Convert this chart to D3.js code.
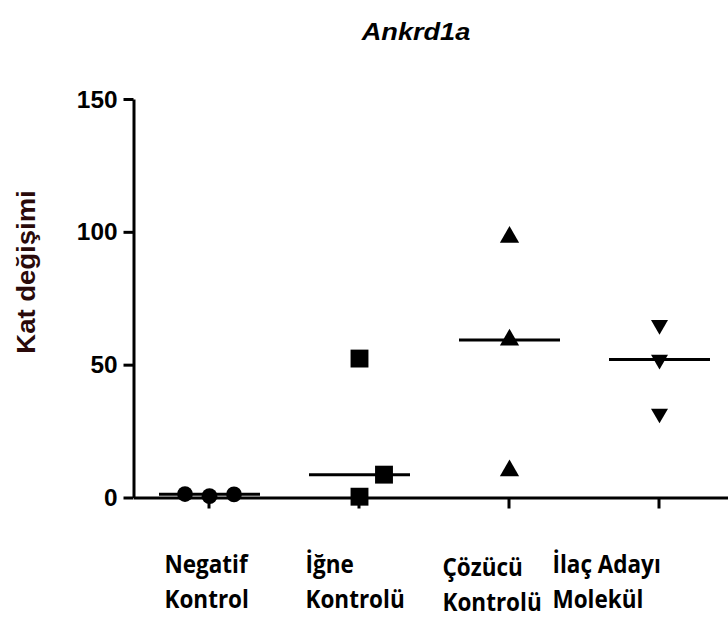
<!DOCTYPE html>
<html>
<head>
<meta charset="utf-8">
<script src="https://cdn.jsdelivr.net/npm/d3@7"></script>
<style>
  body { margin: 0; background: #fff; }
  svg { display: block; }
</style>
</head>
<body>
<svg id="chart" width="728" height="624"></svg>
<script>
// data
const groups = ["Negatif Kontrol", "İğne Kontrolü", "Çözücü Kontrolü", "İlaç Adayı Molekül"];
const labelLines = [["Negatif", "Kontrol"], ["İğne", "Kontrolü"], ["Çözücü", "Kontrolü"], ["İlaç Adayı", "Molekül"]];
const negatifKontrol = [1.3, 0.5, 1.2];
const igneKontrolu = [52.3, 8.6, 0.3];
const cozucuKontrolu = [98.0, 59.3, 10.1];
const ilacAdayi = [65.0, 51.9, 31.6];
const yTicks = [0, 50, 100, 150];

const series = [negatifKontrol, igneKontrolu, cozucuKontrolu, ilacAdayi];
const shapes = [d3.symbolCircle, d3.symbolSquare, d3.symbolTriangle, "down"];
const symbolSizes = [195, 320, 160, 125];
// horizontal dodge of overlapping points, in steps
const dodge = [[-1, 0, 1], [0, 1, 0], [0, 0, 0], [0, 0, 0]];
const dodgeStep = 24.5;
const labelDx = [-45, -54, -67, -107];
const labelDy = [0, 0, 3, 0];

const svg = d3.select("#chart");

const x = d3.scaleBand().domain(groups).range([133.5, 733.5]).padding(0);
const y = d3.scaleLinear().domain([0, 150]).range([497.5, 99]);
const cx = g => x(g) + x.bandwidth() / 2 + 1;

const arial = "'Liberation Sans', Arial, sans-serif";

// title
svg.append("text")
  .attr("transform", "translate(416,40) scale(1.18,1)")
  .attr("text-anchor", "middle")
  .style("font-family", arial)
  .style("font-weight", "bold")
  .style("font-style", "italic")
  .style("font-size", "23px")
  .text("Ankrd1a");

// y axis
const yAxis = svg.append("g")
  .attr("transform", "translate(133.5,0)")
  .call(d3.axisLeft(y).tickValues(yTicks).tickSize(10).tickSizeOuter(0));
yAxis.select(".domain").attr("stroke-width", 3).attr("stroke", "#000");
yAxis.selectAll(".tick line").attr("stroke-width", 3).attr("stroke", "#000");
yAxis.selectAll(".tick text")
  .attr("x", null).attr("dy", null)
  .attr("transform", "translate(-16,8) scale(1.06,1)")
  .attr("text-anchor", "end")
  .attr("fill", "#000")
  .style("font-family", arial)
  .style("font-weight", "bold")
  .style("font-size", "23px");

// x axis
const xAxis = svg.append("g")
  .attr("transform", "translate(0,497.5)")
  .call(d3.axisBottom(x).tickFormat("").tickSize(11).tickSizeOuter(0));
xAxis.select(".domain").attr("stroke-width", 3).attr("stroke", "#000");
xAxis.selectAll(".tick line").attr("stroke-width", 3).attr("stroke", "#000")
  .attr("transform", "translate(0.5,0)");

// y axis title
svg.append("text")
  .attr("transform", "translate(35,272) rotate(-90) scale(1.1,1)")
  .attr("text-anchor", "middle")
  .attr("fill", "#2a0a0a")
  .style("font-family", arial)
  .style("font-weight", "bold")
  .style("font-size", "25px")
  .text("Kat değişimi");

// category labels
groups.forEach((g, i) => {
  const t = svg.append("text")
    .attr("transform", `translate(${cx(g) + labelDx[i]},${573 + labelDy[i]}) scale(0.9,1)`)
    .style("font-family", "'Open Sans', sans-serif")
    .style("font-weight", "bold")
    .style("font-size", "25px")
    .attr("fill", "#000");
  labelLines[i].forEach((line, j) => {
    t.append("tspan").attr("x", 0).attr("y", j * 35).text(line);
  });
});

// median lines
groups.forEach((g, i) => {
  const m = d3.median(series[i]);
  svg.append("line")
    .attr("x1", cx(g) - 50.5).attr("x2", cx(g) + 50.5)
    .attr("y1", y(m)).attr("y2", y(m))
    .attr("stroke", "#000").attr("stroke-width", 3);
});

// points
groups.forEach((g, i) => {
  const shape = shapes[i] === "down" ? d3.symbolTriangle : shapes[i];
  const sym = d3.symbol().type(shape).size(symbolSizes[i]);
  svg.append("g").selectAll("path")
    .data(series[i])
    .join("path")
    .attr("d", sym)
    .attr("transform", (d, k) => {
      const px = cx(g) + dodge[i][k] * dodgeStep;
      const rot = shapes[i] === "down" ? " rotate(180)" : "";
      return `translate(${px},${y(d)})${rot}`;
    })
    .attr("fill", "#000");
});
</script>
</body>
</html>
